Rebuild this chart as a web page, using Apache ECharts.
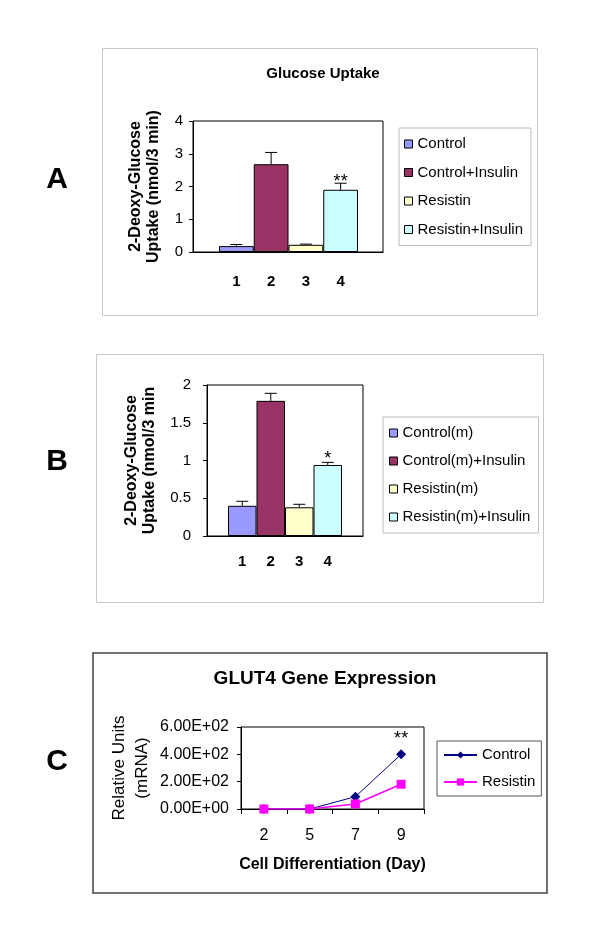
<!DOCTYPE html>
<html>
<head>
<meta charset="utf-8">
<script src="https://cdn.jsdelivr.net/npm/echarts@6/dist/echarts.min.js"></script>
<style>
html,body{margin:0;padding:0;background:#fff;}
#chart{width:600px;height:945px;}
</style>
</head>
<body>
<div id="chart"></div>
<script>
// ---------- data ----------
const barLabelsA = ['1', '2', '3', '4'];
const namesA = ['Control', 'Control+Insulin', 'Resistin', 'Resistin+Insulin'];
const valuesA = [0.18, 2.68, 0.22, 1.90];
const errorsA = [0.05, 0.36, 0.02, 0.20];
const sigA = ['', '', '', '**'];

const barLabelsB = ['1', '2', '3', '4'];
const namesB = ['Control(m)', 'Control(m)+Insulin', 'Resistin(m)', 'Resistin(m)+Insulin'];
const valuesB = [0.40, 1.79, 0.38, 0.94];
const errorsB = [0.06, 0.10, 0.04, 0.035];
const sigB = ['', '', '', '*'];

const daysC = ['2', '5', '7', '9'];
const namesC = ['Control', 'Resistin'];
const controlC = [0, 0, 90, 400];
const resistinC = [0, 0, 37, 181];
const sigC = ['', '', '', '**'];

// ---------- styles ----------
const FONT = "'Liberation Sans', Arial, sans-serif";
const barColors = ['#9999FF', '#993366', '#FFFFCC', '#CCFFFF'];
const lineColors = ['#000080', '#FF00FF'];

function barSeries(names, values, xi, yi) {
  return names.map((n, i) => ({
    type: 'bar', name: n, xAxisIndex: xi, yAxisIndex: yi,
    data: values.map((v, j) => (j === i ? v : '-')),
    barGap: '-100%', barCategoryGap: '0%',
    itemStyle: { color: barColors[i], borderColor: '#000', borderWidth: 1 },
    z: 2
  }));
}
function errSeries(values, errors, sig, xi, yi, sigOffset) {
  return {
    type: 'custom', xAxisIndex: xi, yAxisIndex: yi, z: 5, silent: true,
    data: values.map((v, i) => [i, v, errors[i]]),
    encode: { x: 0, y: 1 },
    renderItem: function (params, api) {
      const i = api.value(0), v = api.value(1), e = api.value(2);
      const p0 = api.coord([i, v]);
      const p1 = api.coord([i, v + e]);
      const children = [
        { type: 'line', shape: { x1: p0[0], y1: p0[1], x2: p1[0], y2: p1[1] }, style: { stroke: '#000', lineWidth: 1 } },
        { type: 'line', shape: { x1: p1[0] - 6, y1: p1[1], x2: p1[0] + 6, y2: p1[1] }, style: { stroke: '#000', lineWidth: 1 } }
      ];
      const s = sig[params.dataIndex];
      if (s) {
        children.push({ type: 'text', style: { text: s, x: p1[0], y: p1[1] + sigOffset, textAlign: 'center', textVerticalAlign: 'bottom', fontSize: 18, fontFamily: FONT, fill: '#000' } });
      }
      return { type: 'group', children: children };
    }
  };
}
const frameAxisX = (g) => ({ gridIndex: g, type: 'category', data: [''], axisLine: { show: true, lineStyle: { color: '#000', width: 1 } }, axisTick: { show: false }, axisLabel: { show: false } });
const labelAxisX = (g, d, m) => ({ gridIndex: g, type: 'category', data: d, axisLine: { show: false }, axisTick: { show: false }, axisLabel: { show: true, margin: m, fontSize: 15, fontWeight: 'bold', color: '#000', fontFamily: FONT } });
const hiddenY = (g, min, max) => ({ gridIndex: g, type: 'value', min: min, max: max, show: false, splitLine: { show: false } });

function sciFmt(v) {
  if (v === 0) return '0.00E+00';
  const e = Math.floor(Math.log10(Math.abs(v)));
  const m = v / Math.pow(10, e);
  return m.toFixed(2) + 'E' + (e >= 0 ? '+' : '-') + String(Math.abs(e)).padStart(2, '0');
}

const legendBase = {
  orient: 'vertical', itemWidth: 8, itemHeight: 8, icon: 'rect',
  backgroundColor: '#fff', borderColor: '#bdbdbd', borderWidth: 1,
  itemStyle: { borderColor: '#000', borderWidth: 1 },
  textStyle: { fontSize: 15, color: '#000', fontFamily: FONT, lineHeight: 16 },
  selectedMode: false
};

const option = {
  animation: false,
  textStyle: { fontFamily: FONT },
  title: [
    { text: 'Glucose Uptake', left: 318, top: 61, textAlign: 'center', textStyle: { fontSize: 15, fontWeight: 'bold', color: '#000', fontFamily: FONT } },
    { text: 'GLUT4 Gene Expression', left: 320, top: 664, textAlign: 'center', textStyle: { fontSize: 19, fontWeight: 'bold', color: '#000', fontFamily: FONT } }
  ],
  legend: [
    Object.assign({}, legendBase, { data: namesA, left: 399, top: 128, padding: [8, 8, 8, 5], itemGap: 12.5 }),
    Object.assign({}, legendBase, { data: namesB, left: 383, top: 417, padding: [8, 8, 8, 6], itemGap: 12 }),
    {
      data: namesC.map(n => 'GLUT4 ' + n), orient: 'vertical', left: 437, top: 741,
      padding: [6, 6, 6, 6], itemGap: 11, itemWidth: 33, itemHeight: 9,
      backgroundColor: '#fff', borderColor: '#555', borderWidth: 1, selectedMode: false,
      formatter: n => n.replace('GLUT4 ', ''),
      textStyle: { fontSize: 15, color: '#000', fontFamily: FONT, lineHeight: 16 }
    }
  ],
  grid: [
    { left: 193, top: 121, width: 190, height: 131, show: true, borderColor: '#000', borderWidth: 1 },
    { left: 219, top: 121, width: 139, height: 131 },
    { left: 207, top: 385, width: 156, height: 151, show: true, borderColor: '#000', borderWidth: 1 },
    { left: 228, top: 385, width: 114, height: 151 },
    { left: 241, top: 727, width: 183, height: 82, show: true, borderColor: '#000', borderWidth: 1 }
  ],
  xAxis: [
    frameAxisX(0),
    labelAxisX(1, barLabelsA, 22),
    frameAxisX(2),
    labelAxisX(3, barLabelsB, 18),
    {
      gridIndex: 4, type: 'category', data: daysC, boundaryGap: true,
      axisLine: { show: true, lineStyle: { color: '#000', width: 1 } },
      axisTick: { show: true, length: 5, lineStyle: { color: '#000' } },
      axisLabel: { fontSize: 16, color: '#000', margin: 19, fontFamily: FONT },
      name: 'Cell Differentiation (Day)', nameLocation: 'middle', nameGap: 48,
      nameTextStyle: { fontSize: 16, fontWeight: 'bold', color: '#000', fontFamily: FONT }
    }
  ],
  yAxis: [
    {
      gridIndex: 0, type: 'value', min: 0, max: 4, interval: 1,
      axisLine: { show: true, lineStyle: { color: '#000', width: 1 } },
      axisTick: { show: true, length: 4, lineStyle: { color: '#000' } },
      splitLine: { show: false },
      axisLabel: { fontSize: 15, color: '#000', margin: 10, fontFamily: FONT },
      name: '2-Deoxy-Glucose\nUptake (nmol/3 min)', nameLocation: 'middle', nameRotate: 90, nameGap: 30,
      nameTextStyle: { fontSize: 16, fontWeight: 'bold', color: '#000', lineHeight: 18, fontFamily: FONT }
    },
    hiddenY(1, 0, 4),
    {
      gridIndex: 2, type: 'value', min: 0, max: 2, interval: 0.5,
      axisLine: { show: true, lineStyle: { color: '#000', width: 1 } },
      axisTick: { show: true, length: 4, lineStyle: { color: '#000' } },
      splitLine: { show: false },
      axisLabel: { fontSize: 15, color: '#000', margin: 16, fontFamily: FONT },
      name: '2-Deoxy-Glucose\nUptake (nmol/3 min', nameLocation: 'middle', nameRotate: 90, nameGap: 48,
      nameTextStyle: { fontSize: 16, fontWeight: 'bold', color: '#000', lineHeight: 18, fontFamily: FONT }
    },
    hiddenY(3, 0, 2),
    {
      gridIndex: 4, type: 'value', min: 0, max: 600, interval: 200,
      axisLine: { show: true, lineStyle: { color: '#000', width: 1 } },
      axisTick: { show: true, length: 4, lineStyle: { color: '#000' } },
      splitLine: { show: false },
      axisLabel: { fontSize: 16, color: '#000', margin: 12, fontFamily: FONT, formatter: sciFmt },
      name: 'Relative Units\n(mRNA)', nameLocation: 'middle', nameRotate: 90, nameGap: 87,
      nameTextStyle: { fontSize: 17, color: '#000', lineHeight: 23, fontFamily: FONT }
    }
  ],
  series: [].concat(
    barSeries(namesA, valuesA, 1, 1),
    [errSeries(valuesA, errorsA, sigA, 1, 1, 8)],
    barSeries(namesB, valuesB, 3, 3),
    [errSeries(valuesB, errorsB, sigB, 3, 3, 6)],
    [
      {
        type: 'line', name: 'GLUT4 ' + namesC[0], xAxisIndex: 4, yAxisIndex: 4, data: controlC,
        symbol: 'diamond', symbolSize: 10, itemStyle: { color: lineColors[0] },
        lineStyle: { color: lineColors[0], width: 1 },
        label: { show: true, position: 'top', distance: 1, formatter: p => sigC[p.dataIndex], fontSize: 18, color: '#000', fontFamily: FONT }
      },
      {
        type: 'line', name: 'GLUT4 ' + namesC[1], xAxisIndex: 4, yAxisIndex: 4, data: resistinC,
        symbol: 'rect', symbolSize: 9, itemStyle: { color: lineColors[1] },
        lineStyle: { color: lineColors[1], width: 1.5 }
      }
    ]
  ),
  graphic: [
    { type: 'rect', z: -1, shape: { x: 102.5, y: 48.5, width: 435, height: 267 }, style: { fill: 'none', stroke: '#c8c8c8', lineWidth: 1 } },
    { type: 'rect', z: -1, shape: { x: 96.5, y: 354.5, width: 447, height: 248 }, style: { fill: 'none', stroke: '#c8c8c8', lineWidth: 1 } },
    { type: 'rect', z: -1, shape: { x: 93, y: 653, width: 454, height: 240 }, style: { fill: 'none', stroke: '#444', lineWidth: 1.5 } },
    { type: 'text', style: { text: 'A', x: 57, y: 180, textAlign: 'center', textVerticalAlign: 'middle', fontSize: 30, fontWeight: 'bold', fontFamily: FONT, fill: '#000' } },
    { type: 'text', style: { text: 'B', x: 57, y: 462, textAlign: 'center', textVerticalAlign: 'middle', fontSize: 30, fontWeight: 'bold', fontFamily: FONT, fill: '#000' } },
    { type: 'text', style: { text: 'C', x: 57, y: 762, textAlign: 'center', textVerticalAlign: 'middle', fontSize: 30, fontWeight: 'bold', fontFamily: FONT, fill: '#000' } }
  ]
};

const chart = echarts.init(document.getElementById('chart'), null, { renderer: 'canvas' });
chart.setOption(option);
</script>
</body>
</html>
